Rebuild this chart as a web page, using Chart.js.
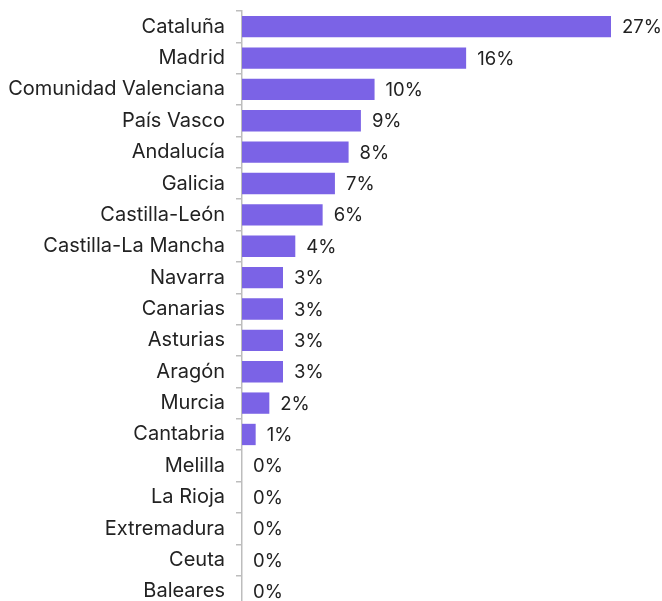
<!DOCTYPE html>
<html>
<head>
<meta charset="utf-8">
<script src="https://cdn.jsdelivr.net/npm/chart.js@4.4.0/dist/chart.umd.min.js"></script>
<style>
  html, body { margin: 0; padding: 0; background: #fff; overflow: hidden; }
  canvas { display: block; }
</style>
</head>
<body>
<canvas id="barChart" width="662" height="607"></canvas>
<script>
var regiones = ['Cataluña', 'Madrid', 'Comunidad Valenciana', 'País Vasco', 'Andalucía', 'Galicia',
    'Castilla-León', 'Castilla-La Mancha', 'Navarra', 'Canarias', 'Asturias', 'Aragón', 'Murcia',
    'Cantabria', 'Melilla', 'La Rioja', 'Extremadura', 'Ceuta', 'Baleares'];
var porcentajes = [27, 16.4, 9.7, 8.7, 7.8, 6.8, 5.9, 3.9, 3, 3, 3, 3, 2, 1, 0, 0, 0, 0, 0];
var escalaMax = 27;

var fuente = "'Inter', 'Noto Sans', sans-serif";

// etiquetas con el porcentaje al final de cada barra
var etiquetasValor = {
    id: 'etiquetasValor',
    afterDatasetsDraw: function (chart) {
        var c = chart.ctx;
        var meta = chart.getDatasetMeta(0);
        c.save();
        c.font = '18.5px ' + fuente;
        c.fillStyle = '#222';
        c.textAlign = 'left';
        c.textBaseline = 'middle';
        meta.data.forEach(function (bar, i) {
            c.fillText(Math.round(porcentajes[i]) + '%', bar.x + 11, bar.y + 1);
        });
        c.restore();
    }
};

var ctx = document.getElementById('barChart');
var myBarChart = new Chart(ctx, {
    type: 'bar',
    data: {
        labels: regiones,
        datasets: [{
            data: porcentajes,
            backgroundColor: '#7b63e6',
            borderWidth: 0,
            barPercentage: 0.68,
            categoryPercentage: 1
        }]
    },
    options: {
        indexAxis: 'y',
        responsive: false,
        animation: false,
        layout: { padding: { top: 11, right: 51, bottom: 0, left: 0 } },
        plugins: {
            legend: { display: false },
            tooltip: { enabled: false }
        },
        scales: {
            x: {
                display: false,
                min: 0,
                max: escalaMax
            },
            y: {
                afterFit: function (scale) {
                    scale.width = 242;
                    // sin margen extra arriba/abajo por las etiquetas
                    scale.paddingTop = 0;
                    scale.paddingBottom = 0;
                },
                border: { display: true, color: '#bdbdbd', width: 1.5 },
                grid: {
                    drawOnChartArea: false,
                    offset: true,
                    tickLength: 6,
                    color: '#bdbdbd',
                    lineWidth: 1.5
                },
                ticks: {
                    padding: 11,
                    color: '#222',
                    autoSkip: false,
                    font: { family: fuente, size: 20 }
                }
            }
        }
    },
    plugins: [etiquetasValor]
});
</script>
</body>
</html>
